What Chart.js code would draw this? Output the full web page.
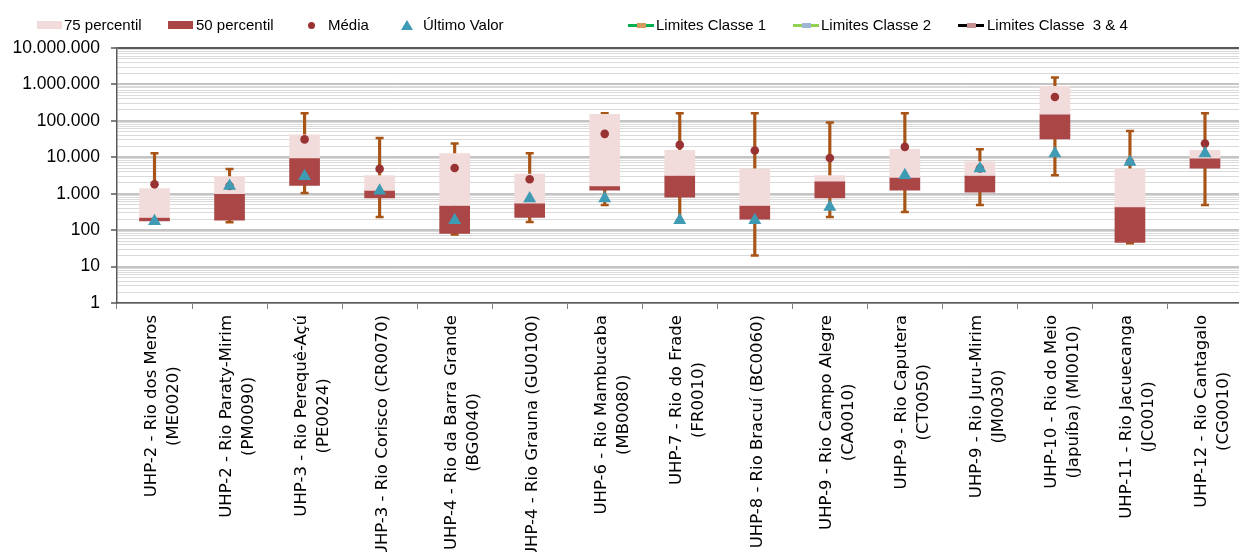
<!DOCTYPE html>
<html>
<head>
<meta charset="utf-8">
<script src="https://cdn.jsdelivr.net/npm/chart.js@4.4.1/dist/chart.umd.min.js"></script>
<style>
  html, body { margin: 0; padding: 0; background: #fff; overflow: hidden; }
  #wrap { position: relative; width: 1250px; height: 552px; }
  #legend { position: absolute; top: 16px; left: 0; width: 1239px; height: 18px;
    font: 15px "Liberation Sans", Arial, sans-serif; color: #000; }
  .item { position: absolute; top: 0; height: 18px; line-height: 18px; white-space: pre; }
  .mk { position: absolute; }
</style>
</head>
<body>
<div id="wrap">
  <canvas id="chart"></canvas>
  <div id="legend"></div>
</div>
<script>
// categories (each entry = lines of the rotated label)
const categories = [
  ["UHP-2 - Rio dos Meros", "(ME0020)"],
  ["UHP-2 - Rio Paraty-Mirim", "(PM0090)"],
  ["UHP-3 - Rio Perequê-Açú", "(PE0024)"],
  ["UHP-3 - Rio Corisco (CR0070)"],
  ["UHP-4 - Rio da Barra Grande", "(BG0040)"],
  ["UHP-4 - Rio Grauna (GU0100)"],
  ["UHP-6 - Rio Mambucaba", "(MB0080)"],
  ["UHP-7 - Rio do Frade", "(FR0010)"],
  ["UHP-8 - Rio Bracuí (BC0060)"],
  ["UHP-9 - Rio Campo Alegre", "(CA0010)"],
  ["UHP-9 - Rio Caputera", "(CT0050)"],
  ["UHP-9 - Rio Juru-Mirim", "(JM0030)"],
  ["UHP-10 - Rio do Meio", "(Japuíba) (MI0010)"],
  ["UHP-11 - Rio Jacuecanga", "(JC0010)"],
  ["UHP-12 - Rio Cantagalo", "(CG0010)"]
];

const p25 = [180, 187, 1680, 765, 81, 222, 1260, 800, 200, 765, 1260, 1100, 32000, 46, 5000];
const p50 = [222, 1000, 9600, 1230, 475, 550, 1630, 3170, 475, 2200, 2800, 3170, 152000, 435, 9400];
const p75 = [1380, 2960, 41500, 3170, 12700, 3450, 152000, 15400, 4800, 3170, 16600, 7600, 890000, 4800, 15400];
const minimo = [150, 165, 1050, 230, 76, 168, 490, 185, 20, 230, 316, 490, 3200, 44, 490];
const maximo = [13000, 4800, 162000, 34000, 24000, 13000, 162000, 162000, 162000, 90000, 162000, 16600, 1550000, 53000, 162000];
const media = [1820, 1630, 31000, 4800, 5100, 2500, 44000, 21900, 15400, 9600, 19300, 4900, 450000, 7400, 24000];
const ultimoValor = [175, 1630, 3000, 1200, 187, 740, 740, 187, 187, 435, 3200, 4900, 12700, 7400, 12700];

// limit series: listed in the legend, no points plotted
const limitesClasse1 = [];
const limitesClasse2 = [];
const limitesClasse34 = [];

const yTickValues = [1, 10, 100, 1000, 10000, 100000, 1000000, 10000000];
const yTickLabels = ["1", "10", "100", "1.000", "10.000", "100.000", "1.000.000", "10.000.000"];

const PINK = "#f2dcdb";
const DARK = "#aa4646";
const MEAN = "#993333";
const LAST = "#3f9ab3";
const WHISK = "#a85416";

function isDecade(v) {
  const l = Math.log10(v);
  return Math.abs(l - Math.round(l)) < 1e-9;
}

const xLabels = {
  id: "xLabels",
  afterDraw(chart) {
    const { ctx } = chart;
    const x = chart.scales.x;
    ctx.save();
    ctx.font = '16.5px "DejaVu Sans"';
    ctx.fillStyle = "#000";
    ctx.textAlign = "center";
    ctx.textBaseline = "middle";
    categories.forEach((lines, i) => {
      const px = x.getPixelForValue(i);
      const w = Math.max(...lines.map(l => ctx.measureText(l).width));
      const cy = x.top + 12 + w / 2;
      const shift = lines.length > 1 ? 8 : 3;
      lines.forEach((line, j) => {
        ctx.save();
        ctx.translate(px + shift + (j - (lines.length - 1) / 2) * 22, cy);
        ctx.rotate(-Math.PI / 2);
        ctx.fillText(line, 0, 0);
        ctx.restore();
      });
    });
    ctx.restore();
  }
};

const labels = categories.map(c => c.join(" "));

const chart = new Chart(document.getElementById("chart"), {
  data: {
    labels,
    datasets: [
      { type: "line", label: "Último Valor", data: ultimoValor, showLine: false, order: 0,
        pointStyle: "triangle", pointRadius: 7.5, pointBackgroundColor: LAST, pointBorderColor: LAST, pointBorderWidth: 0 },
      { type: "line", label: "Média", data: media, showLine: false, order: 1,
        pointStyle: "circle", pointRadius: 4.3, pointBackgroundColor: MEAN, pointBorderColor: MEAN, pointBorderWidth: 0 },
      { type: "bar", label: "75 percentil", data: p50.map((v, i) => [v, p75[i]]), order: 2,
        backgroundColor: PINK, grouped: false, barThickness: 30, borderWidth: 0 },
      { type: "bar", label: "50 percentil", data: p25.map((v, i) => [v, p50[i]]), order: 3,
        backgroundColor: DARK, grouped: false, barThickness: 30, borderWidth: 0 },
      { type: "line", label: "max", data: maximo, showLine: false, order: 4,
        pointStyle: "line", pointRadius: 4, pointBorderColor: WHISK, pointBorderWidth: 2.5 },
      { type: "line", label: "min", data: minimo, showLine: false, order: 4,
        pointStyle: "line", pointRadius: 4, pointBorderColor: WHISK, pointBorderWidth: 2.5 },
      { type: "bar", label: "whisker", data: minimo.map((v, i) => [v, maximo[i]]), order: 5,
        backgroundColor: WHISK, grouped: false, barThickness: 2.5, borderWidth: 0 },
      { type: "line", label: "Limites Classe 1", data: limitesClasse1, borderColor: "#00b050" },
      { type: "line", label: "Limites Classe 2", data: limitesClasse2, borderColor: "#92d050" },
      { type: "line", label: "Limites Classe  3 & 4", data: limitesClasse34, borderColor: "#000" }
    ]
  },
  options: {
    responsive: true,
    maintainAspectRatio: false,
    animation: false,
    layout: { padding: { top: 48, left: 0, right: 0, bottom: 0 } },
    plugins: { legend: { display: false }, tooltip: { enabled: false } },
    scales: {
      x: {
        type: "category",
        offset: true,
        grid: { display: true, drawOnChartArea: false, offset: true, tickLength: 6, color: "#808080" },
        border: { color: "#595959", width: 1.5 },
        ticks: { display: false },
        afterFit: s => { s.height = 249; }
      },
      y: {
        type: "logarithmic",
        min: 1,
        max: 10000000,
        afterBuildTicks: s => {
          const t = [];
          yTickValues.forEach(d => {
            if (d === 10000000) { t.push({ value: d }); return; }
            for (let k = 1; k <= 9; k++) t.push({ value: d * k });
          });
          s.ticks = t;
        },
        afterFit: s => { s.width = 117; },
        grid: {
          color: c => {
            const v = c.tick && c.tick.value;
            if (v === 10000000) return "#595959";
            return isDecade(v) ? "#c4c4c4" : "#dadada";
          },
          lineWidth: c => (c.tick && isDecade(c.tick.value) ? 2 : 1),
          tickColor: c => (c.tick && isDecade(c.tick.value) ? "#808080" : "rgba(0,0,0,0)"),
          tickLength: 6
        },
        border: { color: "#595959", width: 1.5 },
        ticks: {
          autoSkip: false,
          padding: 11,
          color: "#000",
          font: { family: '"Liberation Sans", Arial, sans-serif', size: 17.5 },
          callback: v => {
            const i = yTickValues.indexOf(v);
            return i >= 0 ? yTickLabels[i] : "";
          }
        }
      }
    }
  },
  plugins: [xLabels]
});

// legend
const legendDefs = [
  { label: "75 percentil", left: 37, text: 64, kind: "box", color: PINK },
  { label: "50 percentil", left: 168, text: 196, kind: "box", color: DARK },
  { label: "Média", left: 308, text: 328, kind: "dot", color: MEAN },
  { label: "Último Valor", left: 401, text: 423, kind: "tri", color: LAST },
  { label: "Limites Classe 1", left: 628, text: 656, kind: "lim", color: "#00b050", inner: "#d49a5c" },
  { label: "Limites Classe 2", left: 793, text: 821, kind: "lim", color: "#92d050", inner: "#9db6d6" },
  { label: "Limites Classe  3 & 4", left: 958, text: 987, kind: "lim", color: "#000", inner: "#c99090" }
];
const legendEl = document.getElementById("legend");
legendDefs.forEach(d => {
  const mk = document.createElement("div");
  mk.className = "mk";
  if (d.kind === "box") {
    Object.assign(mk.style, { left: d.left + "px", top: "5px", width: "25px", height: "8px", background: d.color });
  } else if (d.kind === "dot") {
    Object.assign(mk.style, { left: d.left + "px", top: "5.5px", width: "7px", height: "7px", borderRadius: "50%", background: d.color });
  } else if (d.kind === "tri") {
    Object.assign(mk.style, { left: d.left + "px", top: "4px", width: "0", height: "0",
      borderLeft: "6px solid transparent", borderRight: "6px solid transparent", borderBottom: "10px solid " + d.color });
  } else {
    Object.assign(mk.style, { left: d.left + "px", top: "7.5px", width: "26px", height: "3px", background: d.color });
    const inner = document.createElement("div");
    Object.assign(inner.style, { position: "absolute", left: "9px", top: "-1px", width: "9px", height: "5px", background: d.inner });
    mk.appendChild(inner);
  }
  legendEl.appendChild(mk);
  const tx = document.createElement("div");
  tx.className = "item";
  tx.style.left = d.text + "px";
  tx.textContent = d.label;
  legendEl.appendChild(tx);
});
</script>
</body>
</html>
